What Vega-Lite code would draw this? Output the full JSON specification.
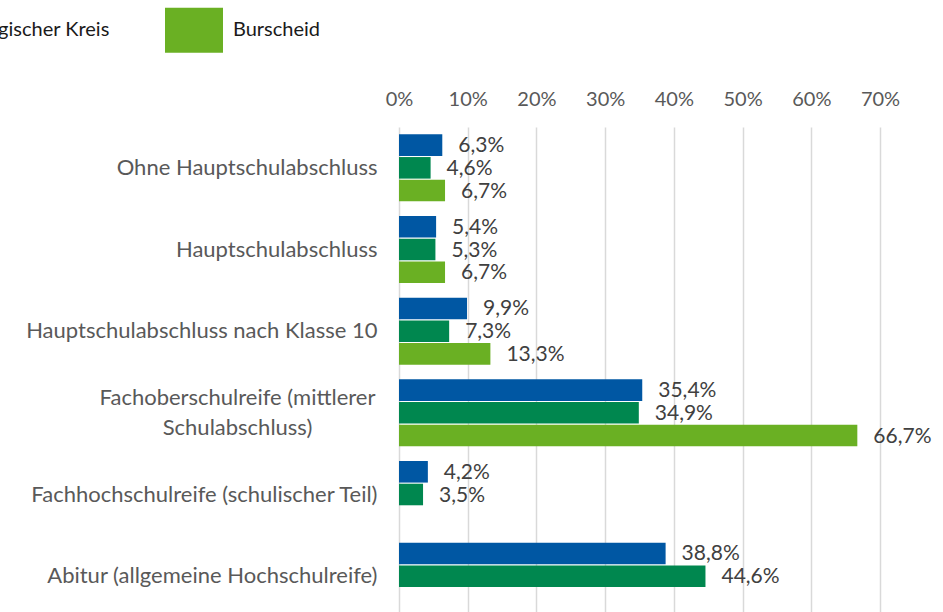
{
  "$schema": "https://vega.github.io/schema/vega-lite/v6.json",
  "width": 481,
  "height": 485,
  "autosize": {"type": "none"},
  "padding": {"left": 399, "top": 127, "right": 63, "bottom": 0},
  "config": {
    "font": "Lato",
    "view": {"stroke": null},
    "locale": {"number": {"decimal": ",", "thousands": ".", "grouping": [3], "currency": ["", " €"]}}
  },
  "data": {
    "values": [
      {"cat": "Ohne Hauptschulabschluss", "region": "NRW", "v": 0.063},
      {"cat": "Ohne Hauptschulabschluss", "region": "Rheinisch-Bergischer Kreis", "v": 0.046},
      {"cat": "Ohne Hauptschulabschluss", "region": "Burscheid", "v": 0.067},
      {"cat": "Hauptschulabschluss", "region": "NRW", "v": 0.054},
      {"cat": "Hauptschulabschluss", "region": "Rheinisch-Bergischer Kreis", "v": 0.053},
      {"cat": "Hauptschulabschluss", "region": "Burscheid", "v": 0.067},
      {"cat": "Hauptschulabschluss nach Klasse 10", "region": "NRW", "v": 0.099},
      {"cat": "Hauptschulabschluss nach Klasse 10", "region": "Rheinisch-Bergischer Kreis", "v": 0.073},
      {"cat": "Hauptschulabschluss nach Klasse 10", "region": "Burscheid", "v": 0.133},
      {"cat": "Fachoberschulreife (mittlerer Schulabschluss)", "region": "NRW", "v": 0.354},
      {"cat": "Fachoberschulreife (mittlerer Schulabschluss)", "region": "Rheinisch-Bergischer Kreis", "v": 0.349},
      {"cat": "Fachoberschulreife (mittlerer Schulabschluss)", "region": "Burscheid", "v": 0.667},
      {"cat": "Fachhochschulreife (schulischer Teil)", "region": "NRW", "v": 0.042},
      {"cat": "Fachhochschulreife (schulischer Teil)", "region": "Rheinisch-Bergischer Kreis", "v": 0.035},
      {"cat": "Abitur (allgemeine Hochschulreife)", "region": "NRW", "v": 0.388},
      {"cat": "Abitur (allgemeine Hochschulreife)", "region": "Rheinisch-Bergischer Kreis", "v": 0.446}
    ]
  },
  "encoding": {
    "y": {
      "field": "cat",
      "type": "nominal",
      "sort": ["Ohne Hauptschulabschluss", "Hauptschulabschluss", "Hauptschulabschluss nach Klasse 10", "Fachoberschulreife (mittlerer Schulabschluss)", "Fachhochschulreife (schulischer Teil)", "Abitur (allgemeine Hochschulreife)"],
      "scale": {"range": [0, 490], "paddingInner": 0.18, "paddingOuter": 0.09},
      "axis": {
        "title": null,
        "domain": false,
        "ticks": false,
        "labelFontSize": 22,
        "labelColor": "#595959",
        "labelLimit": 0,
        "labelLineHeight": 30,
        "labelPadding": {"condition": {"test": "datum.value == 'Fachoberschulreife (mittlerer Schulabschluss)'", "value": 162}, "value": 22},
        "labelAlign": {"condition": {"test": "datum.value == 'Fachoberschulreife (mittlerer Schulabschluss)'", "value": "center"}, "value": "right"},
        "labelOffset": {"condition": {"test": "datum.value == 'Fachoberschulreife (mittlerer Schulabschluss)'", "value": -15}, "value": 0},
        "labelExpr": "datum.value == 'Fachoberschulreife (mittlerer Schulabschluss)' ? ['Fachoberschulreife (mittlerer', 'Schulabschluss)'] : datum.value"
      }
    },
    "yOffset": {
      "field": "region",
      "type": "nominal",
      "sort": ["NRW", "Rheinisch-Bergischer Kreis", "Burscheid"],
      "scale": {"paddingInner": 0.05}
    },
    "x": {
      "field": "v",
      "type": "quantitative",
      "scale": {"domain": [0, 0.7]},
      "axis": {
        "orient": "top",
        "title": null,
        "format": ".0%",
        "values": [0, 0.1, 0.2, 0.3, 0.4, 0.5, 0.6, 0.7],
        "domain": false,
        "ticks": false,
        "grid": true,
        "gridColor": "#d9d9d9",
        "gridWidth": 1.5,
        "labelFlush": false,
        "labelFontSize": 20,
        "labelColor": "#595959",
        "labelPadding": 18
      }
    }
  },
  "layer": [
    {
      "mark": {"type": "bar"},
      "encoding": {
        "color": {
          "field": "region",
          "type": "nominal",
          "sort": ["NRW", "Rheinisch-Bergischer Kreis", "Burscheid"],
          "scale": {"domain": ["NRW", "Rheinisch-Bergischer Kreis", "Burscheid"], "range": ["#0057A3", "#00874F", "#6AB023"]},
          "legend": {
            "title": null,
            "orient": "none",
            "direction": "horizontal",
            "legendX": -763,
            "legendY": -126,
            "symbolType": "M-1,-0.776H1V0.776H-1Z",
            "symbolSize": 3364,
            "symbolStrokeWidth": 0,
            "labelOffset": 10,
            "labelLimit": 0,
            "columnPadding": 55,
            "labelFontSize": 20,
            "labelColor": "#1a1a1a"
          }
        }
      }
    },
    {
      "mark": {"type": "text", "align": "left", "baseline": "middle", "dx": 16, "dy": 1, "fontSize": 21, "color": "#404040"},
      "encoding": {
        "text": {"field": "v", "type": "quantitative", "format": ".1%"}
      }
    }
  ]
}
